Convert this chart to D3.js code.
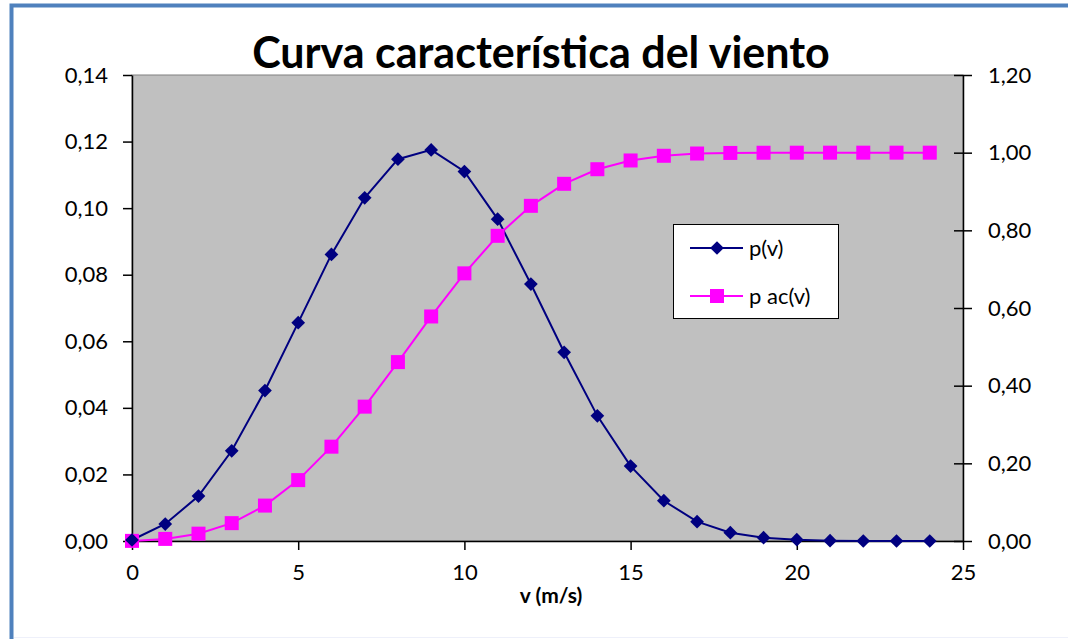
<!DOCTYPE html>
<html>
<head>
<meta charset="utf-8">
<script src="https://cdn.jsdelivr.net/npm/d3@7"></script>
<style>
  html, body { margin: 0; padding: 0; background: #fff; }
  svg { display: block; }
  text { font-family: Lato, "Open Sans", sans-serif; fill: #000; }
</style>
</head>
<body>
<svg id="chart" width="1068" height="639"></svg>
<script>
// Wind speed bins (m/s)
const speeds = [0,1,2,3,4,5,6,7,8,9,10,11,12,13,14,15,16,17,18,19,20,21,22,23,24];
// Probability density p(v)
const pv = [0.0003,0.0051,0.0135,0.0271,0.0452,0.0656,0.0861,0.1031,0.1147,0.1175,0.1110,0.0967,0.0772,0.0567,0.0376,0.0225,0.0121,0.0058,0.0025,0.0010,0.0004,0.0001,0.0000,0.0000,0.0000];
// Cumulative probability p ac(v)
const pac = [0.0003,0.0054,0.0189,0.0460,0.0912,0.1568,0.2429,0.3460,0.4607,0.5782,0.6892,0.7859,0.8631,0.9198,0.9574,0.9799,0.9920,0.9978,0.9993,0.9998,0.9999,1.0000,1.0000,1.0000,1.0000];

const xTicks = [0,5,10,15,20,25];
const yLeftTicks = [0,0.02,0.04,0.06,0.08,0.10,0.12,0.14];
const yRightTicks = [0,0.2,0.4,0.6,0.8,1.0,1.2];
const seriesNames = ["p(v)", "p ac(v)"];
const titleText = "Curva característica del viento";
const xTitle = "v (m/s)";

const svg = d3.select("#chart");
const plot = { left: 132, right: 963, top: 75, bottom: 541 };
const comma = d3.formatLocale({ decimal: ",", thousands: ".", grouping: [3], currency: ["", "€"] });
const fmt2 = comma.format(".2f");

// outer frame: only the top and left edges fall inside the page
svg.append("path")
  .attr("d", "M11.5,1080 V5.5 H1080")
  .attr("fill", "none")
  .attr("stroke", "#4f81bd").attr("stroke-width", 4);
svg.append("line")
  .attr("x1", 14).attr("x2", 1068).attr("y1", 637.5).attr("y2", 637.5)
  .attr("stroke", "#eef0fa").attr("stroke-width", 1);

const x = d3.scaleLinear().domain([0, 25]).range([plot.left, plot.right]);
const yL = d3.scaleLinear().domain([0, 0.14]).range([plot.bottom, plot.top]);
const yR = d3.scaleLinear().domain([0, 1.2]).range([plot.bottom, plot.top]);

// plot area
svg.append("rect")
  .attr("x", plot.left).attr("y", plot.top)
  .attr("width", plot.right - plot.left).attr("height", plot.bottom - plot.top)
  .attr("fill", "#c0c0c0")
  .attr("stroke", "#808080").attr("stroke-width", 1);

// title
svg.append("text")
  .attr("x", 541).attr("y", 68)
  .attr("text-anchor", "middle")
  .attr("font-size", 43).attr("font-weight", "bold")
  .text(titleText);

// axes
const axisStyle = g => {
  g.select(".domain").attr("stroke", "#000").attr("stroke-width", 1.5);
  g.selectAll(".tick line").attr("stroke", "#000").attr("stroke-width", 1.5);
  g.selectAll(".tick text").attr("font-size", 22).attr("fill", "#1a1a1a")
    .style("font-family", "Lato, 'Open Sans', sans-serif");
};

svg.append("g")
  .attr("transform", `translate(${plot.left},0)`)
  .call(d3.axisLeft(yL).tickValues(yLeftTicks).tickFormat(fmt2).tickSize(9).tickSizeOuter(0).tickPadding(15))
  .attr("font-family", null)
  .call(axisStyle);

const gR = svg.append("g")
  .attr("transform", `translate(${plot.right},0)`)
  .call(d3.axisRight(yR).tickValues(yRightTicks).tickFormat(fmt2).tickSize(9).tickSizeOuter(0).tickPadding(16))
  .attr("font-family", null)
  .call(axisStyle);
gR.selectAll(".tick line").attr("x1", -9);

svg.append("g")
  .attr("transform", `translate(0,${plot.bottom})`)
  .call(d3.axisBottom(x).tickValues(xTicks).tickFormat(d3.format("d")).tickSize(9).tickSizeOuter(0).tickPadding(14))
  .attr("font-family", null)
  .call(axisStyle);

svg.append("text")
  .attr("x", 551).attr("y", 603)
  .attr("text-anchor", "middle")
  .attr("font-size", 21).attr("font-weight", "bold")
  .text(xTitle);

// series
const lineL = d3.line().x((d, i) => x(speeds[i])).y(d => yL(d));
const lineR = d3.line().x((d, i) => x(speeds[i])).y(d => yR(d));
const navy = "#000080", magenta = "#ff00ff";

svg.append("path").datum(pac)
  .attr("d", lineR).attr("fill", "none")
  .attr("stroke", magenta).attr("stroke-width", 2);
svg.append("path").datum(pv)
  .attr("d", lineL).attr("fill", "none")
  .attr("stroke", navy).attr("stroke-width", 2);

const diamond = d3.symbol().type(d3.symbolDiamond2).size(120);
const square = 14;

svg.append("g").selectAll("rect").data(pac).join("rect")
  .attr("x", (d, i) => x(speeds[i]) - square / 2)
  .attr("y", d => yR(d) - square / 2)
  .attr("width", square).attr("height", square)
  .attr("fill", magenta);

svg.append("g").selectAll("path").data(pv).join("path")
  .attr("transform", (d, i) => `translate(${x(speeds[i])},${yL(d)})`)
  .attr("d", diamond)
  .attr("fill", navy);

// legend
const lg = svg.append("g").attr("transform", "translate(673,224)");
lg.append("rect").attr("x", 0.5).attr("y", 0.5).attr("width", 165).attr("height", 94)
  .attr("fill", "#fff").attr("stroke", "#000").attr("stroke-width", 1);
const rows = [
  { name: seriesNames[0], color: navy, y: 24, kind: "diamond" },
  { name: seriesNames[1], color: magenta, y: 72, kind: "square" }
];
rows.forEach(r => {
  lg.append("line").attr("x1", 17).attr("x2", 70).attr("y1", r.y).attr("y2", r.y)
    .attr("stroke", r.color).attr("stroke-width", 2);
  if (r.kind === "diamond") {
    lg.append("path").attr("transform", `translate(44,${r.y})`).attr("d", diamond).attr("fill", r.color);
  } else {
    lg.append("rect").attr("x", 44 - square / 2).attr("y", r.y - square / 2)
      .attr("width", square).attr("height", square).attr("fill", r.color);
  }
  lg.append("text").attr("x", 76).attr("y", r.y + 8).attr("font-size", 22).attr("fill", "#1a1a1a").text(r.name);
});
</script>
</body>
</html>
